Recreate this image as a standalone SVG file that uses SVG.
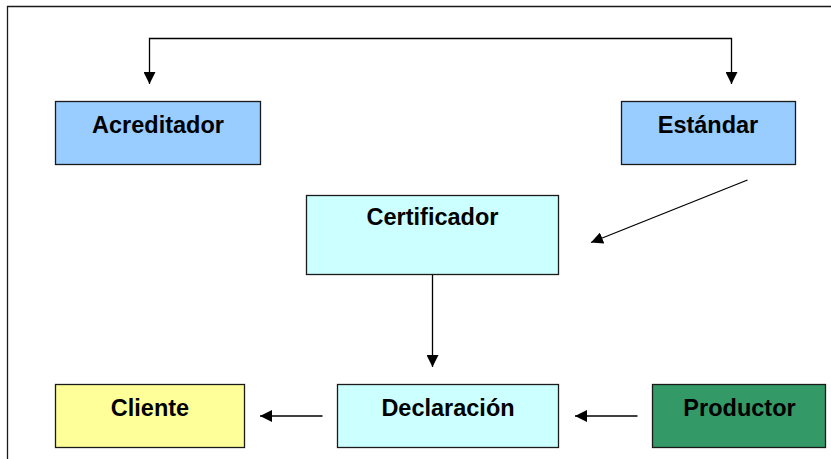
<svg xmlns="http://www.w3.org/2000/svg" width="831" height="459" viewBox="0 0 831 459">
<defs>
<style>
.box{stroke:#1a1a1a;stroke-width:1.3}
.lbl{font-family:"Liberation Sans",Arial,sans-serif;font-weight:bold;font-size:23.5px;fill:#000;text-anchor:middle}
.ln{stroke:#000;stroke-width:1.3;fill:none}
</style>
<marker id="ah" markerWidth="12" markerHeight="12" refX="12" refY="6" orient="auto-start-reverse" markerUnits="userSpaceOnUse">
<path d="M0,0 L12,6 L0,12 Z" fill="#000"/>
</marker>
</defs>
<rect x="0" y="0" width="831" height="459" fill="#fff"/>
<path d="M7.5,459 V6.5 H831" fill="none" stroke="#1a1a1a" stroke-width="1.3"/>
<g id="connectors">
<path class="ln" d="M731.5,84 V38.5 H149.5 V84" marker-start="url(#ah)" marker-end="url(#ah)"/>
<line class="ln" x1="747.5" y1="180" x2="591" y2="242.5" marker-end="url(#ah)"/>
<line class="ln" x1="432.5" y1="274" x2="432.5" y2="367" marker-end="url(#ah)"/>
<line class="ln" x1="322.5" y1="416" x2="260" y2="416" marker-end="url(#ah)"/>
<line class="ln" x1="637.5" y1="416" x2="575" y2="416" marker-end="url(#ah)"/>
</g>
<g id="acreditador">
<rect class="box" x="55.5" y="101.5" width="205" height="63" fill="#99CCFF"/>
<text class="lbl" x="158" y="133">Acreditador</text>
</g>
<g id="estandar">
<rect class="box" x="621.5" y="101.5" width="174" height="63" fill="#99CCFF"/>
<text class="lbl" x="708" y="133">Estándar</text>
</g>
<g id="certificador">
<rect class="box" x="306.5" y="195.5" width="252" height="79" fill="#CCFFFF"/>
<text class="lbl" x="432.5" y="225">Certificador</text>
</g>
<g id="cliente">
<rect class="box" x="55.5" y="384.5" width="189" height="63" fill="#FFFF99"/>
<text class="lbl" x="150" y="416">Cliente</text>
</g>
<g id="declaracion">
<rect class="box" x="337.5" y="384.5" width="221" height="63" fill="#CCFFFF"/>
<text class="lbl" x="448" y="416">Declaración</text>
</g>
<g id="productor">
<rect class="box" x="652.5" y="384.5" width="173" height="63" fill="#339966"/>
<text class="lbl" x="739.5" y="416">Productor</text>
</g>
</svg>
